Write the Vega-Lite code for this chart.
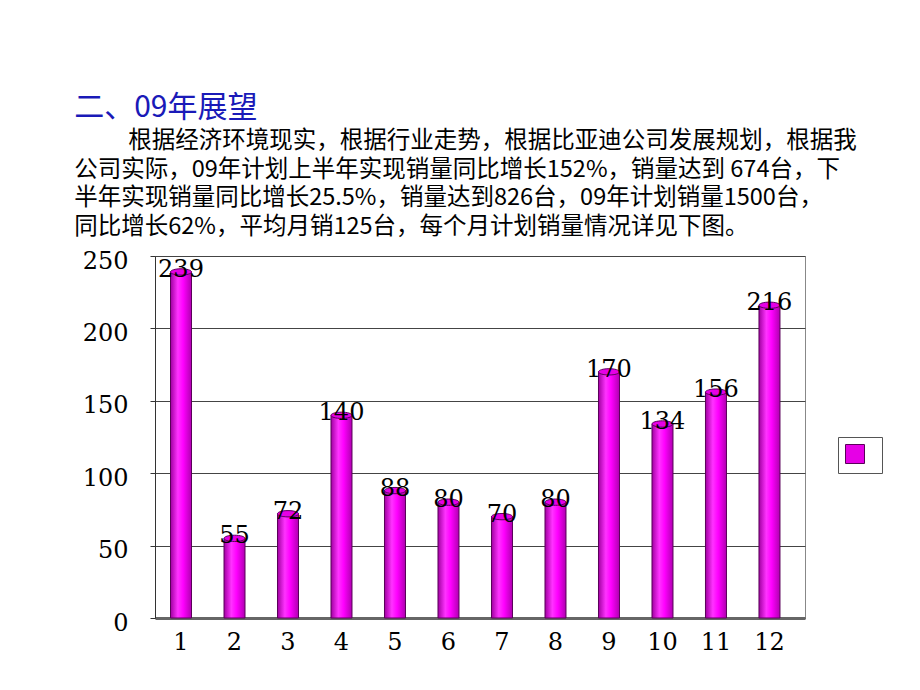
{
  "$schema": "https://vega.github.io/schema/vega-lite/v6.json",
  "autosize": "none",
  "width": 650,
  "height": 362,
  "padding": {"left": 155, "top": 256, "right": 115, "bottom": 72},
  "background": "white",
  "title": {
    "text": "二、09年展望",
    "subtitle": [
      "\u2800\u2800\u2800根据经济环境现实，根据行业走势，根据比亚迪公司发展规划，根据我",
      "公司实际，09年计划上半年实现销量同比增长152%，销量达到 674台，下",
      "半年实现销量同比增长25.5%，销量达到826台，09年计划销量1500台，",
      "同比增长62%，平均月销125台，每个月计划销量情况详见下图。"
    ],
    "anchor": "start",
    "frame": "bounds",
    "orient": "top",
    "font": "Noto Sans CJK SC",
    "fontSize": 30,
    "fontWeight": "normal",
    "color": "#1a1ab8",
    "subtitleFont": "Noto Sans CJK SC",
    "subtitleFontSize": 23.5,
    "subtitleColor": "#000000",
    "subtitleLineHeight": 28.5,
    "subtitlePadding": 6,
    "offset": 11,
    "dx": -8
  },
  "data": {
    "values": [
      {"month": 1, "sales": 239, "series": "销量"},
      {"month": 2, "sales": 55, "series": "销量"},
      {"month": 3, "sales": 72, "series": "销量"},
      {"month": 4, "sales": 140, "series": "销量"},
      {"month": 5, "sales": 88, "series": "销量"},
      {"month": 6, "sales": 80, "series": "销量"},
      {"month": 7, "sales": 70, "series": "销量"},
      {"month": 8, "sales": 80, "series": "销量"},
      {"month": 9, "sales": 170, "series": "销量"},
      {"month": 10, "sales": 134, "series": "销量"},
      {"month": 11, "sales": 156, "series": "销量"},
      {"month": 12, "sales": 216, "series": "销量"}
    ]
  },
  "encoding": {
    "x": {
      "field": "month",
      "type": "ordinal",
      "scale": {"paddingInner": 0.63, "paddingOuter": 0.39, "align": 0.386},
      "axis": {
        "title": null,
        "labelAngle": 0,
        "ticks": false,
        "labelFont": "DejaVu Serif",
        "labelFontSize": 24,
        "labelColor": "#000000",
        "labelPadding": 12,
        "domainColor": "#666666",
        "domainWidth": 3
      }
    },
    "y": {
      "field": "sales",
      "type": "quantitative",
      "scale": {"domain": [0, 250], "nice": false},
      "axis": {
        "title": null,
        "values": [0, 50, 100, 150, 200, 250],
        "grid": true,
        "gridColor": "#444444",
        "gridOpacity": 1,
        "labelFont": "DejaVu Serif",
        "labelFontSize": 24,
        "labelColor": "#000000",
        "tickSize": 5,
        "tickColor": "#333333",
        "labelPadding": 22,
        "labelOffset": 5,
        "domainColor": "#333333"
      }
    }
  },
  "layer": [
    {
      "mark": {
        "type": "bar",
        "size": 21,
        "fill": {
          "gradient": "linear",
          "x1": 0, "x2": 1, "y1": 0, "y2": 0,
          "stops": [
            {"offset": 0, "color": "#a000a0"},
            {"offset": 0.35, "color": "#ff33ff"},
            {"offset": 0.6, "color": "#ff00ff"},
            {"offset": 1, "color": "#b000b0"}
          ]
        },
        "stroke": "#5a005a",
        "strokeWidth": 1
      }
    },
    {
      "mark": {
        "type": "point",
        "shape": "M -1 0 A 1 0.3 0 1 0 1 0 A 1 0.3 0 1 0 -1 0 Z",
        "size": 441,
        "filled": true,
        "opacity": 1,
        "stroke": "#5a005a",
        "strokeWidth": 1
      },
      "encoding": {
        "color": {
          "field": "series",
          "type": "nominal",
          "scale": {"range": ["#e600e6"]},
          "legend": {
            "title": null,
            "orient": "none",
            "legendX": 683,
            "legendY": 181,
            "symbolType": "square",
            "symbolSize": 361,
            "symbolFillColor": "#ff00ff",
            "symbolStrokeColor": "#5a005a",
            "symbolStrokeWidth": 1,
            "symbolOpacity": 1,
            "labelExpr": "''",
            "labelOffset": 10,
            "padding": 7,
            "strokeColor": "#555555",
            "fillColor": "white"
          }
        }
      }
    },
    {
      "mark": {
        "type": "text",
        "baseline": "middle",
        "dy": -2,
        "font": "DejaVu Serif",
        "fontSize": 24,
        "color": "#000000"
      },
      "encoding": {
        "text": {"field": "sales", "type": "quantitative"}
      }
    }
  ],
  "config": {
    "view": {"stroke": "#888888"}
  }
}
